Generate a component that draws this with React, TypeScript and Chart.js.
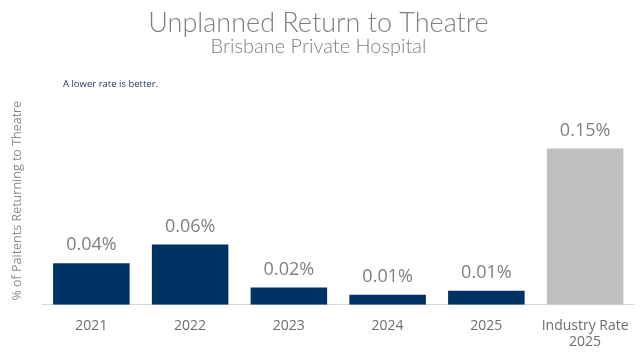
import React, { useEffect, useRef } from "react";
import { Chart, registerables } from "chart.js";

Chart.register(...registerables);

const categories: (string | string[])[] = ["2021", "2022", "2023", "2024", "2025", ["Industry Rate", "2025"]];
const values = [0.04, 0.058, 0.0165, 0.0097, 0.0136, 0.15];
const valueLabels = ["0.04%", "0.06%", "0.02%", "0.01%", "0.01%", "0.15%"];
const barColors = ["#003263", "#003263", "#003263", "#003263", "#003263", "#bfbfbf"];
const titleText = "Unplanned Return to Theatre";
const subtitleText = "Brisbane Private Hospital";
const noteText = "A lower rate is better.";
const yTitleText = "% of Paitents Returning to Theatre";

const SANS = "'Open Sans', sans-serif";

const labelPlugin = {
  id: "valueLabels",
  afterDatasetsDraw(chart: any) {
    const ctx = chart.ctx;
    const meta = chart.getDatasetMeta(0);
    ctx.save();
    ctx.fillStyle = "#7f7f7f";
    ctx.font = `18px ${SANS}`;
    ctx.textAlign = "center";
    ctx.textBaseline = "middle";
    meta.data.forEach((bar: any, i: number) => {
      ctx.fillText(valueLabels[i], bar.x, bar.y - 18);
    });
    ctx.restore();
  },
};

const notePlugin = {
  id: "note",
  afterDraw(chart: any) {
    const ctx = chart.ctx;
    ctx.save();
    ctx.fillStyle = "#1f3864";
    ctx.font = `9.5px ${SANS}`;
    ctx.textAlign = "left";
    ctx.textBaseline = "middle";
    ctx.fillText(noteText, 63, 84);
    ctx.restore();
  },
};

export default function App() {
  const ref = useRef<HTMLCanvasElement>(null);
  useEffect(() => {
    document.body.style.margin = "0";
    const chart = new Chart(ref.current!, {
      type: "bar",
      data: {
        labels: categories,
        datasets: [
          {
            data: values,
            backgroundColor: barColors,
            categoryPercentage: 1,
            barPercentage: 0.775,
          },
        ],
      },
      plugins: [labelPlugin, notePlugin],
      options: {
        animation: false,
        responsive: true,
        maintainAspectRatio: false,
        layout: { padding: { left: 0, right: 5, top: 0, bottom: 0 } },
        plugins: {
          legend: { display: false },
          tooltip: { enabled: false },
          title: {
            display: true,
            text: titleText,
            color: "#7f7f7f",
            font: { family: "Lato", size: 27, weight: "300" as any, lineHeight: 1 },
            padding: { top: 9.5, bottom: 0 },
          },
          subtitle: {
            display: true,
            text: subtitleText,
            color: "#7f7f7f",
            font: { family: "Lato", size: 20, weight: "300" as any, lineHeight: 1 },
            padding: { top: 0.5, bottom: 39.5 },
          },
        },
        scales: {
          x: {
            grid: { display: false, drawTicks: false },
            border: { display: true, color: "#d9d9d9", width: 1 },
            ticks: {
              color: "#6d6d6d",
              font: { family: SANS, size: 14, lineHeight: 1.15 },
              padding: 13,
              maxRotation: 0,
              autoSkip: false,
            },
          },
          y: {
            min: 0,
            max: 0.2,
            grid: { display: false, drawTicks: false },
            border: { display: false },
            ticks: { display: false },
            title: {
              display: true,
              text: yTitleText,
              color: "#8c8c8c",
              font: { family: SANS, size: 12.5, lineHeight: 1.2 },
              padding: { top: 10, bottom: 17 },
            },
          },
        },
      },
    });
    return () => chart.destroy();
  }, []);
  return (
    <div style={{ position: "relative", width: 642, height: 363 }}>
      <canvas ref={ref} />
    </div>
  );
}
